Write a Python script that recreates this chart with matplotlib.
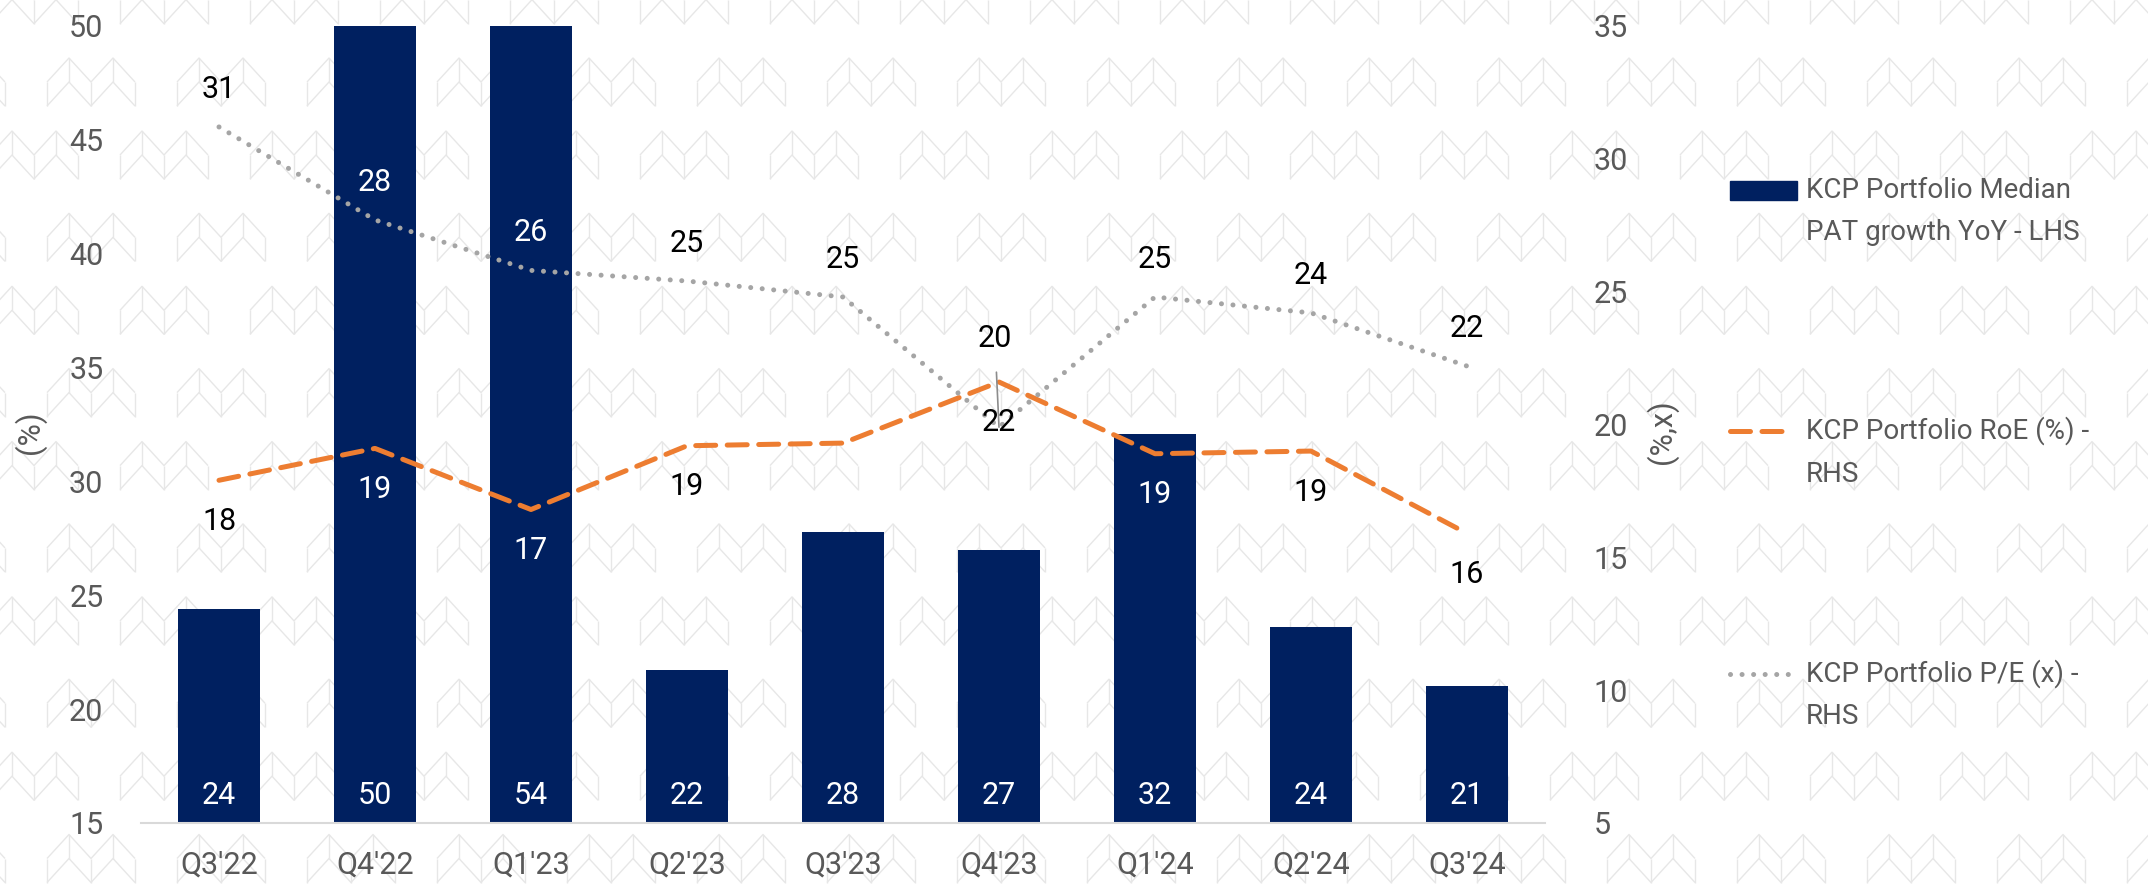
import matplotlib
matplotlib.use("Agg")
import matplotlib.pyplot as plt
from matplotlib.lines import Line2D
from matplotlib.patches import Rectangle
from matplotlib.collections import LineCollection
import numpy as np

plt.rcParams['font.family'] = ['Roboto', 'DejaVu Sans']

# data
quarters = ["Q3'22", "Q4'22", "Q1'23", "Q2'23", "Q3'23", "Q4'23", "Q1'24", "Q2'24", "Q3'24"]
pat_growth = [24.4, 50.0, 54.0, 21.7, 27.8, 27.0, 32.1, 23.6, 21.0]   # LHS, bars
roe = [17.9, 19.1, 16.8, 19.2, 19.3, 21.6, 18.9, 19.0, 15.9]        # RHS
pe = [31.2, 27.7, 25.8, 25.4, 24.8, 19.9, 24.8, 24.2, 22.2]         # RHS

roe_label_show = [True, True, True, True, False, True, True, True, True]
roe_label_white = [False, True, True, False, False, False, True, False, False]
pe_label_white = [False, True, True, False, False, False, False, False, False]

legend_lines = [
    ["KCP Portfolio Median", "PAT growth YoY - LHS"],
    ["KCP Portfolio RoE (%) -", "RHS"],
    ["KCP Portfolio P/E (x) -", "RHS"],
]

NAVY = '#002060'
ORANGE = '#ED7D31'
GREY = '#A5A5A5'
TXT = '#595959'

W, H = 2148, 886
fig = plt.figure(figsize=(W / 100, H / 100), dpi=100)


def fx(px):
    return px / W


def fy(py):
    return 1 - py / H


# background watermark: rows of double chevrons
segs = []
mw, mh = 88, 48
for k in range(-1, 7):
    for row_y, row_x in ((58 + 155.3 * k, 47), (131 + 155.3 * k, 120)):
        for j in range(-2, 18):
            x0 = row_x + 130 * j
            y0 = row_y
            pts = [
                [(0, .5), (.25, 0), (.5, .5), (.75, 0), (1, .5)],
                [(0, 1), (.25, .5), (.5, 1), (.75, .5), (1, 1)],
                [(0, .5), (0, 1)], [(.5, .5), (.5, 1)], [(1, .5), (1, 1)],
                [(.25, 0), (.25, .5)], [(.75, 0), (.75, .5)],
            ]
            for p in pts:
                segs.append([(fx(x0 + a * mw), fy(y0 + b * mh)) for a, b in p])
wm = LineCollection(segs, colors='#E7E7E7', linewidths=1.0, transform=fig.transFigure, zorder=0)
fig.add_artist(wm)

ax = fig.add_axes([fx(141), fy(823), fx(1545 - 141), (823 - 26) / H])
ax.patch.set_visible(False)
x = np.arange(len(quarters))

ax.bar(x, pat_growth, width=0.52, color=NAVY, zorder=2)
ax.set_ylim(15, 50)
ax.set_yticks(np.arange(15, 51, 5))
ax.set_xlim(-0.5, len(quarters) - 0.5)
ax.set_xticks(x)
ax.set_xticklabels(quarters)
for s in ['top', 'right', 'left']:
    ax.spines[s].set_visible(False)
ax.spines['bottom'].set_color('#D9D9D9')
ax.spines['bottom'].set_linewidth(1.5)
ax.tick_params(axis='both', length=0, labelsize=22, labelcolor=TXT)
ax.tick_params(axis='y', pad=27)
ax.tick_params(axis='x', pad=20)

for i, v in enumerate(pat_growth):
    ax.annotate(f"{round(v)}", xy=(i, 15), xytext=(0, 20), textcoords='offset points',
                ha='center', va='center', color='white', fontsize=22, zorder=5)

ax2 = ax.twinx()
ax2.patch.set_visible(False)
ax2.set_ylim(5, 35)
ax2.set_yticks(np.arange(5, 36, 5))
for s in ax2.spines.values():
    s.set_visible(False)
ax2.tick_params(axis='y', length=0, labelsize=22, labelcolor=TXT, pad=35)

ax2.plot(x, roe, color=ORANGE, lw=3.6, linestyle=(0, (4, 2.3)),
         dash_capstyle='round', solid_joinstyle='round', zorder=3)
ax2.plot(x, pe, color=GREY, lw=3.6, linestyle=(0, (0.01, 2.3)),
         dash_capstyle='round', zorder=3)

for i, v in enumerate(roe):
    if not roe_label_show[i]:
        continue
    ax2.annotate(f"{round(v)}", xy=(i, v), xytext=(0, -29.5), textcoords='offset points',
                 ha='center', va='center', fontsize=22,
                 color='white' if roe_label_white[i] else 'black', zorder=5)

for i, v in enumerate(pe):
    if i == 5:
        ax2.annotate(f"{round(v)}", xy=(i, v), xytext=(-3, 64), textcoords='offset points',
                     ha='center', va='center', fontsize=22, color='black',
                     arrowprops=dict(arrowstyle='-', color='#8C8C8C', lw=1.2,
                                     shrinkA=12, shrinkB=0))
    else:
        ax2.annotate(f"{round(v)}", xy=(i, v), xytext=(0, 27), textcoords='offset points',
                     ha='center', va='center', fontsize=22,
                     color='white' if pe_label_white[i] else 'black')

fig.text(fx(30), fy(432), "(%)", rotation=90, ha='center', va='center', fontsize=22, color=TXT)
fig.text(fx(1662), fy(432), "(%,x)", rotation=90, ha='center', va='center', fontsize=22, color=TXT)

# legend, handles aligned with the first line of each entry
leg_y = [190, 431, 674]
fig.add_artist(Rectangle((fx(1730), fy(190 + 9.5)), fx(67), 19 / H, color=NAVY,
                         transform=fig.transFigure))
fig.add_artist(Line2D([fx(1730), fx(1793)], [fy(431), fy(431)], color=ORANGE, lw=3.6,
                      linestyle=(0, (4, 2.3)), dash_capstyle='round', transform=fig.transFigure))
fig.add_artist(Line2D([fx(1730), fx(1793)], [fy(674), fy(674)], color=GREY, lw=3.6,
                      linestyle=(0, (0.01, 2.3)), dash_capstyle='round', transform=fig.transFigure))
for yy, lines in zip(leg_y, legend_lines):
    for n, t in enumerate(lines):
        fig.text(fx(1806), fy(yy + 43 * n), t, ha='left', va='center', fontsize=20, color=TXT)

fig.savefig('out.png', dpi=100)
